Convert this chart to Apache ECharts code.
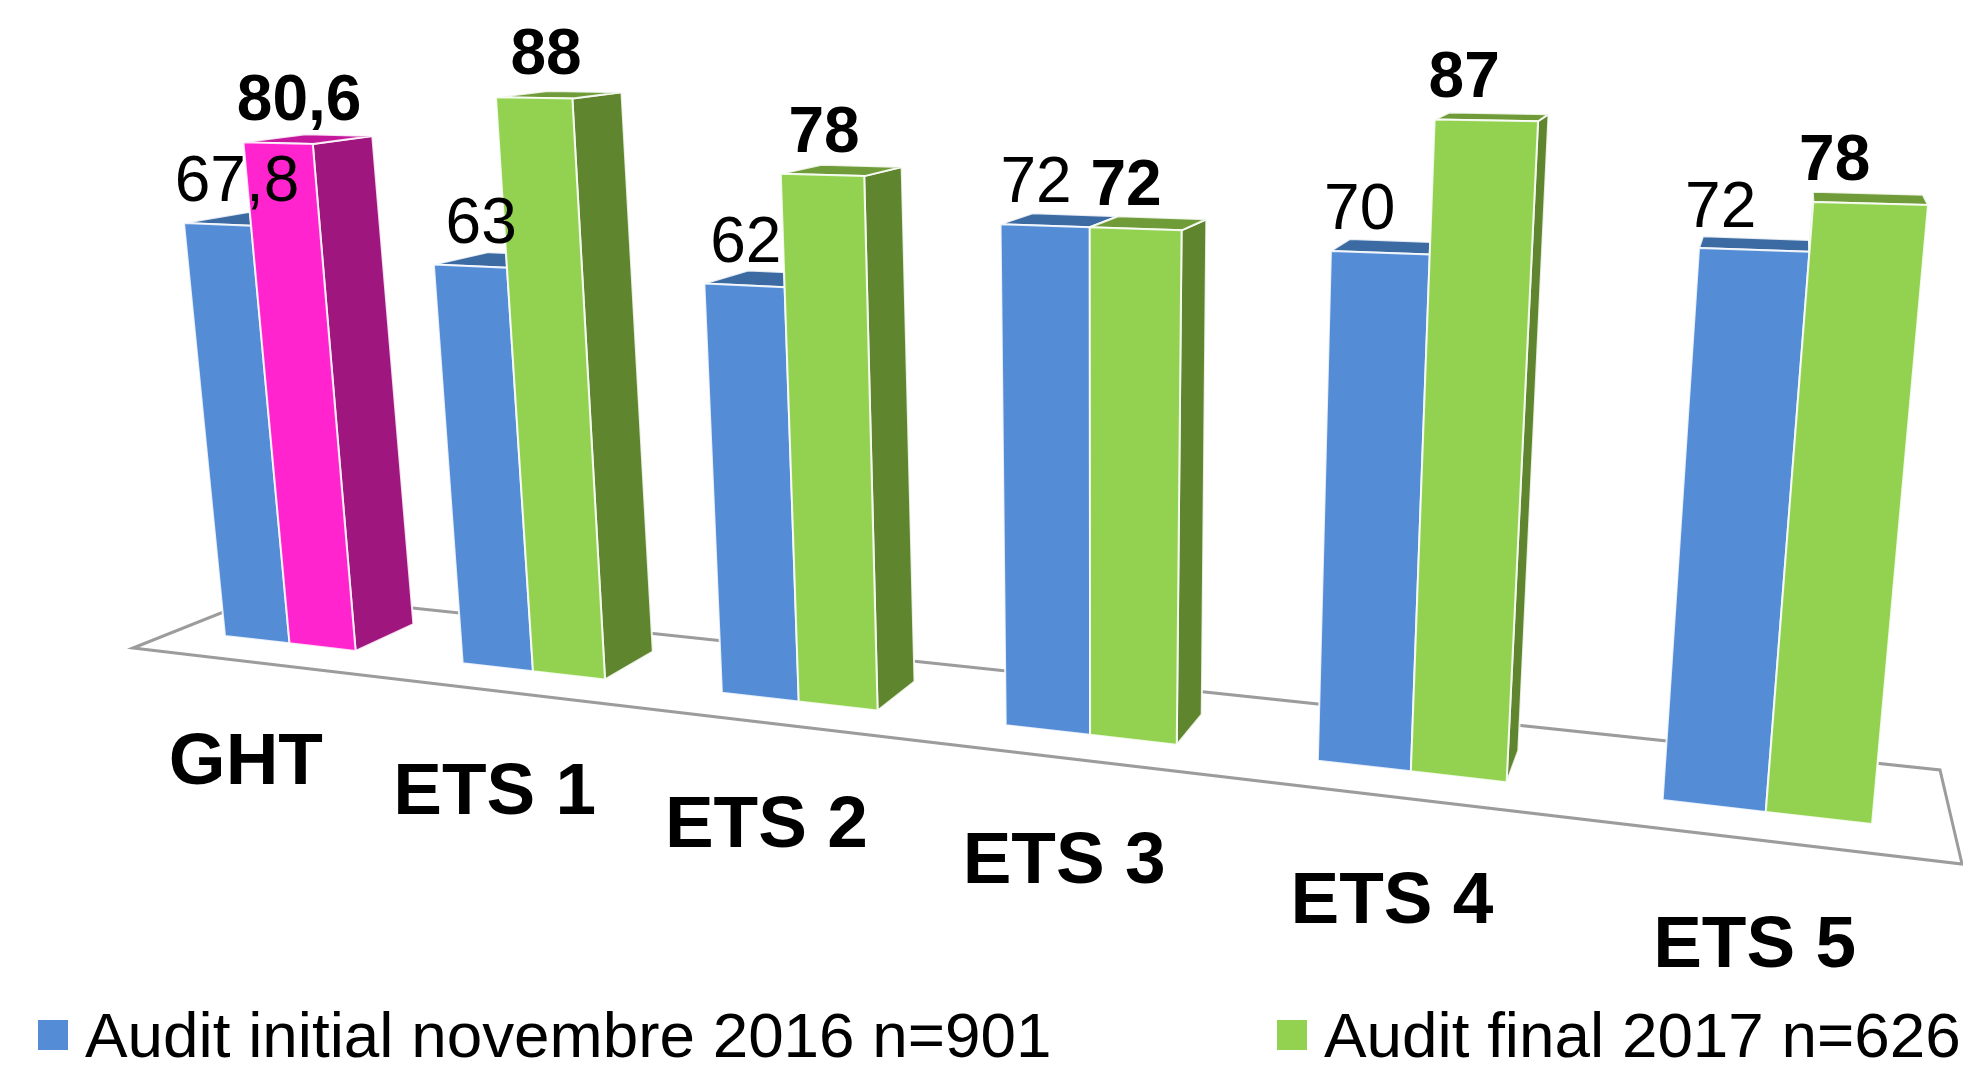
<!DOCTYPE html>
<html>
<head>
<meta charset="utf-8">
<title>Audit</title>
<script src="https://cdn.jsdelivr.net/npm/echarts@6/dist/echarts.min.js"></script>
<style>
  html, body { margin: 0; padding: 0; background: #fff; }
  #chart { width: 1963px; height: 1067px; }
</style>
</head>
<body>
<div id="chart"></div>
<script>
const categories = ['GHT', 'ETS 1', 'ETS 2', 'ETS 3', 'ETS 4', 'ETS 5'];
const initialValues = [67.8, 63, 62, 72, 70, 72];
const finalValues = [80.6, 88, 78, 72, 87, 78];
const initialName = 'Audit initial novembre 2016 n=901';
const finalName = 'Audit final 2017 n=626';

const fontFamily = '"Liberation Sans", Arial, sans-serif';
const gridRect = {x: 100, y: 100, w: 1700, h: 800};
const halfBar = 0.28; // part of a category band taken by each bar

const blue = {front: '#558cd6', top: '#3c6aa3', side: '#3c6aa3'};
const green = {front: '#92d250', top: '#6f9c38', side: '#5f862e'};
const pink = {front: '#ff24ce', top: '#c4189c', side: '#a0167f'};

// where the flat plot plane lands in the tilted picture: [s, value] -> pixel
const planeAnchors = [
  [(0.5 - halfBar) / 6, 0, 225, 636],
  [(5.5 + halfBar) / 6, 0, 1872, 824],
  [(0.5 - halfBar) / 6, 67.8, 184, 223],
  [(5.5 + halfBar) / 6, 78, 1928, 205]
];
const vanish = [1800, -71];
const depthX = 0.04;
const depthY = 0.037;

function solve(m) {
  const n = m.length;
  for (let i = 0; i < n; i++) {
    let best = i;
    for (let r = i + 1; r < n; r++) if (Math.abs(m[r][i]) > Math.abs(m[best][i])) best = r;
    [m[i], m[best]] = [m[best], m[i]];
    for (let r = 0; r < n; r++) {
      if (r === i) continue;
      const f = m[r][i] / m[i][i];
      for (let c = i; c <= n; c++) m[r][c] -= f * m[i][c];
    }
  }
  return m.map((row, i) => row[n] / row[i]);
}

const rows = [];
planeAnchors.forEach(([s, v, X, Y]) => {
  const t = v / 100;
  rows.push([s, t, 1, 0, 0, 0, -s * X, -t * X, X]);
  rows.push([0, 0, 0, s, t, 1, -s * Y, -t * Y, Y]);
});
const H = solve(rows);

// grid pixel -> picture pixel
function project(p) {
  const s = (p[0] - gridRect.x) / gridRect.w;
  const t = (gridRect.y + gridRect.h - p[1]) / gridRect.h;
  const w = H[6] * s + H[7] * t + 1;
  return [(H[0] * s + H[1] * t + H[2]) / w, (H[3] * s + H[4] * t + H[5]) / w];
}

function back(p) {
  return [p[0] + depthX * (vanish[0] - p[0]), p[1] + depthY * (vanish[1] - p[1])];
}

function face(points, fill, z2) {
  return {
    type: 'polygon',
    z2: z2,
    shape: {points: points},
    style: {fill: fill, stroke: 'rgba(255,255,255,0.85)', lineWidth: 2, lineJoin: 'round'}
  };
}

function renderBar(isFinal, params, api) {
  const i = api.value(0);
  const value = api.value(1);
  const base = api.coord([i, 0]);
  const top = api.coord([i, value]);
  const hw = api.size([1, 0])[0] * halfBar;
  const x0 = isFinal ? base[0] : base[0] - hw;
  const x1 = isFinal ? base[0] + hw : base[0];
  const colors = !isFinal ? blue : (i === 0 ? pink : green);
  const z = isFinal ? 3 : 1;

  const fl = project([x0, base[1]]);
  const fr = project([x1, base[1]]);
  const tl = project([x0, top[1]]);
  const tr = project([x1, top[1]]);
  const btl = back(tl);
  const btr = back(tr);
  const bfr = back(fr);

  const children = [];
  if (isFinal) {
    // left wall only shows above the neighbouring bar
    const other = api.coord([i, initialValues[i]]);
    const ol = project([x0, other[1]]);
    if (initialValues[i] < value) children.push(face([ol, tl, btl, back(ol)], colors.side, z));
    children.push(face([fr, tr, btr, bfr], colors.side, z));
  }
  children.push(face([tl, tr, btr, btl], colors.top, z));
  children.push(face([fl, fr, tr, tl], colors.front, z + 1));

  // value above the bar
  const cx = (tl[0] + tr[0]) / 2;
  const cy = (tl[1] + tr[1]) / 2;
  const shift = isFinal ? 31 - 0.0358 * cx : 27 - 0.0345 * cx;
  children.push({
    type: 'text',
    z2: 10,
    x: cx + shift,
    y: cy - 41,
    style: {
      text: String(value).replace('.', ','),
      fontFamily: fontFamily,
      fontSize: 64,
      fontWeight: isFinal ? 'bold' : 'normal',
      fill: '#000',
      align: 'center',
      verticalAlign: 'middle'
    }
  });

  // category name under the pair
  if (isFinal) {
    const mid = project([base[0], base[1]]);
    children.push({
      type: 'text',
      z2: 10,
      x: mid[0] - 50 + 0.022 * mid[0],
      y: mid[1] + 118 + 0.0095 * mid[0],
      style: {
        text: categories[i],
        fontFamily: fontFamily,
        fontSize: 73,
        fontWeight: 'bold',
        fill: '#000',
        align: 'center',
        verticalAlign: 'middle'
      }
    });
  }
  return {type: 'group', children: children};
}

const chart = echarts.init(document.getElementById('chart'));
const legendText = {
  fontFamily: fontFamily,
  fontSize: 63.8,
  color: '#000',
  padding: [0, 0, 0, 12]
};
// square sitting in the top of a taller box, so it rides a little above the text centre
const legendIcon = 'path://M0 0H30V30H0Z M0 38L0 38';
chart.setOption({
  animation: false,
  backgroundColor: '#fff',
  grid: {left: gridRect.x, top: gridRect.y, width: gridRect.w, height: gridRect.h},
  xAxis: {type: 'category', data: categories, show: false},
  yAxis: {type: 'value', min: 0, max: 100, show: false},
  legend: [
    {
      data: [{name: initialName, icon: legendIcon}], left: 38, top: 1007, padding: 0,
      itemWidth: 30, itemHeight: 38, textStyle: legendText, selectedMode: false
    },
    {
      data: [{name: finalName, icon: legendIcon}], left: 1277, top: 1007, padding: 0,
      itemWidth: 30, itemHeight: 38, textStyle: legendText, selectedMode: false
    }
  ],
  graphic: [{
    type: 'polygon',
    z: 0,
    silent: true,
    shape: {points: [[133, 648], [1962, 864], [1940, 770], [271, 593]]},
    style: {fill: 'none', stroke: '#9c9c9c', lineWidth: 3}
  }],
  series: [
    {
      name: initialName,
      type: 'custom',
      coordinateSystem: 'cartesian2d',
      itemStyle: {color: blue.front},
      encode: {x: 0, y: 1},
      data: initialValues.map((v, i) => [i, v]),
      renderItem: (params, api) => renderBar(false, params, api)
    },
    {
      name: finalName,
      type: 'custom',
      coordinateSystem: 'cartesian2d',
      itemStyle: {color: green.front},
      encode: {x: 0, y: 1},
      data: finalValues.map((v, i) => [i, v]),
      renderItem: (params, api) => renderBar(true, params, api)
    }
  ]
});
</script>
</body>
</html>
